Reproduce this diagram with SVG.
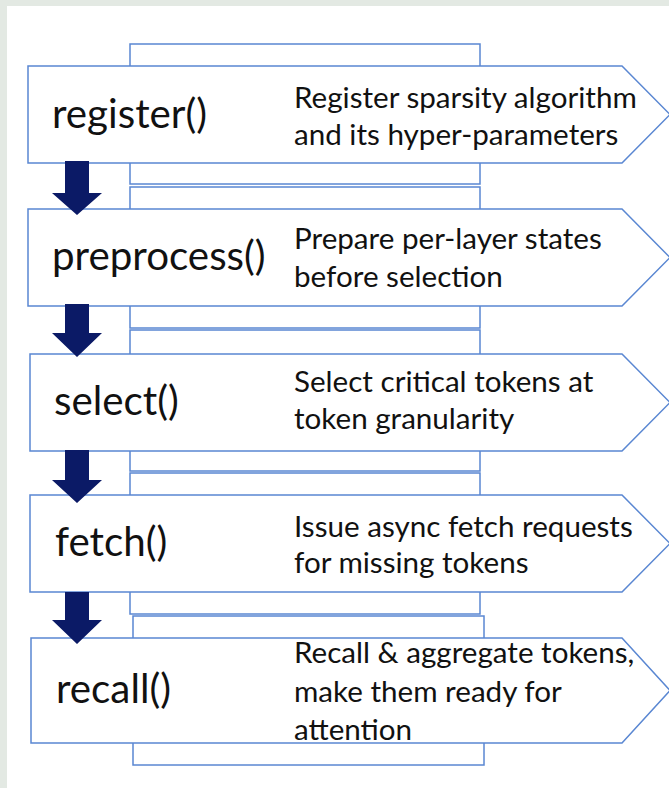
<svg xmlns="http://www.w3.org/2000/svg" width="669" height="788" viewBox="0 0 669 788">
  <style>
    .frame { fill: #ffffff; stroke: #5a87d2; stroke-width: 1.5; }
    .stage { fill: #ffffff; stroke: #5a87d2; stroke-width: 1.5; stroke-linejoin: miter; }
    .fn { font-family: Lato, "Liberation Sans", sans-serif; font-size: 40.3px; fill: #111111; }
    .desc { font-family: Lato, "Liberation Sans", sans-serif; font-size: 29.6px; fill: #111111; }
    .flow { fill: #0b1a66; }
  </style>

  <!-- page background with a light margin on the top and left -->
  <rect x="0" y="0" width="669" height="788" fill="#e3e9e3"/>
  <rect x="7" y="6" width="662" height="782" fill="#ffffff"/>

  <!-- stage 1 -->
  <g id="node-register">
    <rect class="frame" x="130" y="44" width="350" height="140"/>
    <path class="stage" d="M28,66 H622 L670,114.5 L622,163 H28 Z"/>
    <text class="fn" x="52" y="128">register()</text>
    <text class="desc" x="294" y="108">Register sparsity algorithm</text>
    <text class="desc" x="294" y="145">and its hyper-parameters</text>
  </g>

  <!-- stage 2 -->
  <g id="node-preprocess">
    <rect class="frame" x="130" y="187" width="350" height="141"/>
    <path class="stage" d="M28,209 H622 L670,257.5 L622,306 H28 Z"/>
    <text class="fn" x="52" y="270">preprocess()</text>
    <text class="desc" x="294" y="249">Prepare per-layer states</text>
    <text class="desc" x="294" y="287">before selection</text>
  </g>

  <!-- stage 3 -->
  <g id="node-select">
    <rect class="frame" x="130" y="330" width="350" height="141"/>
    <path class="stage" d="M30,354 H622 L670,402.5 L622,451 H30 Z"/>
    <text class="fn" x="54" y="415">select()</text>
    <text class="desc" x="294" y="392">Select critical tokens at</text>
    <text class="desc" x="294" y="429">token granularity</text>
  </g>

  <!-- stage 4 -->
  <g id="node-fetch">
    <rect class="frame" x="130" y="473" width="350" height="141"/>
    <path class="stage" d="M30,495 H622 L670,543.5 L622,592 H30 Z"/>
    <text class="fn" x="55" y="556">fetch()</text>
    <text class="desc" x="294" y="537">Issue async fetch requests</text>
    <text class="desc" x="294" y="573">for missing tokens</text>
  </g>

  <!-- stage 5 -->
  <g id="node-recall">
    <rect class="frame" x="133" y="616" width="351" height="149"/>
    <path class="stage" d="M31,638 H622 L670,690.5 L622,743 H31 Z"/>
    <text class="fn" x="56" y="703">recall()</text>
    <text class="desc" x="294" y="663">Recall &amp; aggregate tokens,</text>
    <text class="desc" x="294" y="702">make them ready for</text>
    <text class="desc" x="294" y="740">attention</text>
  </g>

  <!-- downward flow arrows between stages -->
  <g id="connectors">
    <path class="flow" d="M65,161 H89 V193 H102 L77,215 L52,193 H65 Z"/>
    <path class="flow" d="M65,304 H89 V333 H102 L77,357 L52,333 H65 Z"/>
    <path class="flow" d="M65,450 H89 V480 H102 L77,503 L52,480 H65 Z"/>
    <path class="flow" d="M65,592 H89 V620 H102 L77,644 L52,620 H65 Z"/>
  </g>
</svg>
